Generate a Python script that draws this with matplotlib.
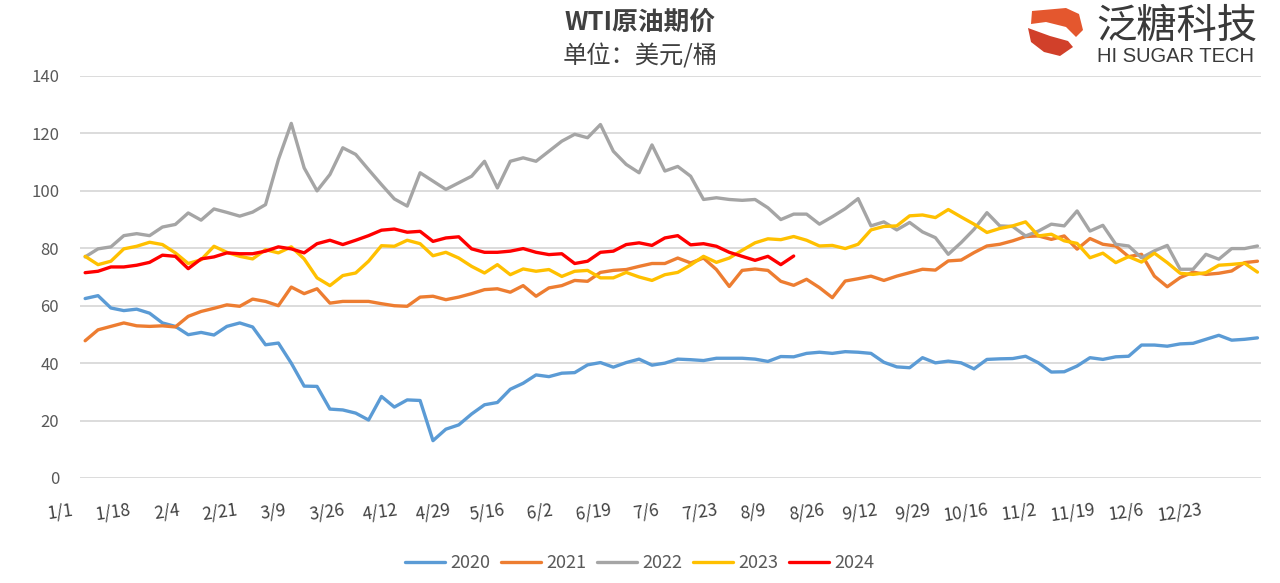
import numpy as np
import matplotlib.pyplot as plt
from matplotlib.patches import Polygon

plt.rcParams['font.family'] = ['Noto Sans CJK SC', 'DejaVu Sans']

# ===== DATA =====
# day of year, one reading every 4 days
DAYS = np.arange(1, 366, 4)

WTI_2020 = [62.5, 63.5, 59.2, 58.3, 58.8, 57.4, 54.0, 52.8, 49.9, 50.7,
            49.8, 52.8, 54.0, 52.6, 46.4, 47.0, 40.0, 32.0, 31.9, 24.0,
            23.7, 22.6, 20.2, 28.4, 24.7, 27.2, 27.0, 13.0, 17.0, 18.5,
            22.3, 25.5, 26.3, 30.9, 33.0, 35.9, 35.3, 36.5, 36.7, 39.4,
            40.2, 38.6, 40.2, 41.4, 39.3, 40.0, 41.4, 41.2, 40.9, 41.7,
            41.7, 41.7, 41.4, 40.6, 42.3, 42.2, 43.4, 43.8, 43.4, 44.0,
            43.8, 43.4, 40.3, 38.7, 38.4, 41.9, 40.1, 40.7, 40.1, 38.0,
            41.3, 41.5, 41.6, 42.4, 40.1, 36.9, 37.0, 39.0, 41.9, 41.3,
            42.2, 42.4, 46.3, 46.3, 45.9, 46.7, 46.9, 48.3, 49.7, 48.0,
            48.3, 48.8]

WTI_2021 = [47.8, 51.6, 52.8, 54.0, 53.0, 52.8, 53.0, 52.6, 56.3, 58.0,
            59.1, 60.3, 59.8, 62.3, 61.5, 60.0, 66.5, 64.2, 65.9, 60.9,
            61.5, 61.5, 61.5, 60.7, 60.0, 59.8, 63.0, 63.3, 62.1, 63.0,
            64.2, 65.6, 65.9, 64.7, 67.0, 63.3, 66.2, 67.0, 68.8, 68.5,
            71.6, 72.3, 72.6, 73.7, 74.7, 74.7, 76.6, 74.9, 76.6, 72.6,
            66.7, 72.3, 72.8, 72.3, 68.5, 67.1, 69.2, 66.3, 62.8, 68.6,
            69.4, 70.3, 68.8, 70.3, 71.5, 72.7, 72.4, 75.6, 75.9, 78.5,
            80.8, 81.4, 82.6, 84.1, 84.3, 83.1, 84.3, 79.7, 83.4, 81.4,
            80.8, 77.1, 77.9, 70.3, 66.6, 69.8, 71.7, 70.9, 71.3, 72.1,
            75.0, 75.5]

WTI_2022 = [77.0, 79.8, 80.5, 84.4, 85.1, 84.4, 87.4, 88.3, 92.3, 89.8,
            93.7, 92.5, 91.2, 92.6, 95.2, 110.9, 123.5, 108.0, 100.0, 105.7,
            115.0, 112.7, 107.4, 102.2, 97.2, 94.7, 106.3, 103.4, 100.5, 102.8,
            105.1, 110.3, 101.0, 110.3, 111.5, 110.3, 113.8, 117.3, 119.7, 118.5,
            123.1, 113.8, 109.2, 106.3, 116.0, 106.9, 108.5, 105.1, 97.0, 97.6,
            97.0, 96.7, 97.0, 94.1, 90.0, 91.9, 91.9, 88.4, 91.0, 93.8,
            97.3, 87.8, 89.2, 86.4, 89.0, 85.7, 83.7, 77.9, 82.0, 86.6,
            92.4, 87.8, 87.6, 84.3, 86.0, 88.4, 87.8, 93.0, 86.0, 88.0,
            81.4, 80.8, 76.7, 79.1, 81.0, 72.7, 72.7, 77.9, 76.2, 79.9,
            79.9, 80.8]

WTI_2023 = [77.2, 74.3, 75.5, 79.8, 80.7, 82.1, 81.3, 78.4, 74.7, 76.0,
            80.7, 78.6, 77.2, 76.3, 79.5, 78.4, 80.5, 76.3, 69.7, 67.0,
            70.5, 71.4, 75.5, 80.9, 80.7, 82.8, 81.6, 77.4, 78.6, 76.6,
            73.7, 71.4, 74.3, 70.8, 72.8, 72.0, 72.6, 70.2, 72.0, 72.3,
            69.7, 69.7, 71.6, 70.0, 68.8, 70.8, 71.6, 74.2, 77.2, 75.1,
            76.6, 79.3, 81.9, 83.3, 83.0, 84.1, 82.8, 80.8, 81.0, 79.9,
            81.4, 86.4, 87.6, 87.8, 91.3, 91.6, 90.7, 93.5, 90.9, 88.4,
            85.5, 86.9, 87.8, 89.2, 84.3, 84.9, 82.6, 81.7, 76.7, 78.3,
            75.0, 77.1, 75.2, 78.3, 75.0, 71.3, 70.9, 71.5, 74.1, 74.4,
            74.8, 71.7]

# 2024 runs only to mid August
WTI_2024 = [71.5, 72.0, 73.5, 73.5, 74.1, 75.1, 77.6, 77.2, 72.9, 76.3,
            77.0, 78.4, 78.1, 78.1, 79.0, 80.5, 79.8, 78.4, 81.6, 82.8,
            81.3, 82.8, 84.4, 86.3, 86.7, 85.6, 85.9, 82.4, 83.6, 84.0,
            79.8, 78.6, 78.6, 79.0, 79.9, 78.6, 77.8, 78.1, 74.7, 75.5,
            78.6, 79.0, 81.3, 81.9, 81.0, 83.6, 84.4, 81.2, 81.6, 80.7,
            78.6, 77.2, 75.8, 77.2, 74.3, 77.3]

YEARS = ['2020', '2021', '2022', '2023', '2024']
COLORS = ['#5b9bd5', '#ed7d31', '#a5a5a5', '#ffc000', '#ff0000']

XLABELS = ['1/1', '1/18', '2/4', '2/21', '3/9', '3/26', '4/12', '4/29',
           '5/16', '6/2', '6/19', '7/6', '7/23', '8/9', '8/26', '9/12',
           '9/29', '10/16', '11/2', '11/19', '12/6', '12/23']

# ===== LAYOUT =====
W, H = 1280, 583
TXT = '#595959'

fig = plt.figure(figsize=(W / 100, H / 100), dpi=100)
ax = fig.add_axes([80 / W, 1 - 478 / H, (1261 - 80) / W, (478 - 76) / H])

series = [WTI_2020, WTI_2021, WTI_2022, WTI_2023, WTI_2024]
for year, vals, col in zip(YEARS, series, COLORS):
    ax.plot(DAYS[:len(vals)], vals, color=col, lw=2.4, label=year,
            solid_joinstyle='round', solid_capstyle='round')

ax.set_xlim(-0.6, 366.1)
ax.set_ylim(0, 140)
ax.set_yticks(range(0, 141, 20))
ax.yaxis.grid(True, color='#d9d9d9', lw=1.3)
ax.set_axisbelow(True)
for s in ax.spines.values():
    s.set_visible(False)
ax.tick_params(axis='y', length=0, pad=15, labelsize=12, labelcolor=TXT)
ax.set_xticks([])

# category labels: Excel spaced them a bit tighter than the data
label_x0, label_step = -6.8, 16.55
for i, lab in enumerate(XLABELS):
    ax.text(label_x0 + label_step * i, -0.085, lab, transform=ax.get_xaxis_transform(),
            ha='center', va='center', rotation=8, fontsize=12.5, color='#404040',
            clip_on=False)

fig.legend(loc='center', bbox_to_anchor=(0.5, 1 - 563 / H), ncol=5, frameon=False,
           fontsize=13, labelcolor=TXT, handlelength=2.2, handletextpad=0.3,
           columnspacing=0.6)

# titles
fig.text(0.5, 1 - 22 / H, 'WTI原油期价', ha='center', va='center',
         fontsize=18.5, fontweight='bold', color='#404040')
fig.text(0.5, 1 - 56 / H, '单位：美元/桶', ha='center', va='center',
         fontsize=17.5, color='#404040')

# logo
def px(pts):
    return [(x / W, 1 - y / H) for x, y in pts]

fig.patches.append(Polygon(px([(1032, 11), (1066, 8), (1079, 14), (1083, 30),
                               (1076, 37), (1066, 27), (1046, 22), (1031, 24)]),
                           closed=True, transform=fig.transFigure,
                           facecolor='#e4572e', edgecolor='none'))
fig.patches.append(Polygon(px([(1028, 28), (1050, 36), (1068, 41), (1073, 47),
                               (1060, 56), (1044, 52), (1031, 42)]),
                           closed=True, transform=fig.transFigure,
                           facecolor='#d1402a', edgecolor='none'))
fig.text(1096 / W, 1 - 26 / H, '泛糖科技', ha='left', va='center',
         fontsize=29, color='#3a3a3a')
fig.text(1097 / W, 1 - 56 / H, 'HI SUGAR TECH', ha='left', va='center',
         fontsize=14.5, color='#3a3a3a', family='Liberation Sans')

fig.savefig('out.png', dpi=100)
